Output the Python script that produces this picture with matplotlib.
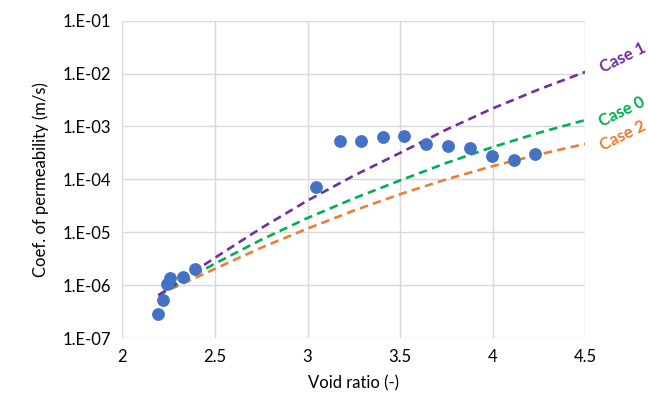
import numpy as np
import matplotlib
matplotlib.use('Agg')
import matplotlib.pyplot as plt
from matplotlib.ticker import FuncFormatter, LogLocator, NullLocator

plt.rcParams['font.family'] = ['Lato', 'DejaVu Sans']

# measured data (void ratio, permeability m/s)
e_meas = [2.191, 2.221, 2.243, 2.257, 2.326, 2.393, 3.048, 3.173, 3.287, 3.406,
          3.523, 3.640, 3.759, 3.878, 3.995, 4.114, 4.231]
k_meas = [2.9e-7, 5.3e-7, 1.04e-6, 1.37e-6, 1.43e-6, 2.0e-6, 7.2e-5, 5.3e-4, 5.3e-4,
          6.2e-4, 6.5e-4, 4.7e-4, 4.3e-4, 4.0e-4, 2.77e-4, 2.3e-4, 3.08e-4]

e_curve = [2.194, 2.25, 2.5, 2.75, 3.0, 3.25, 3.5, 3.75, 4.0, 4.25, 4.5]
logk_case1 = [-6.19, -6.06, -5.48, -4.92, -4.40, -3.93, -3.50, -3.06, -2.66, -2.30, -1.97]
logk_case0 = [-6.19, -6.08, -5.59, -5.14, -4.73, -4.36, -4.02, -3.69, -3.39, -3.12, -2.88]
logk_case2 = [-6.19, -6.09, -5.69, -5.29, -4.93, -4.59, -4.28, -4.00, -3.75, -3.53, -3.33]

fig = plt.figure(figsize=(6.48, 4.04), dpi=100)
ax = fig.add_axes([0.189, 0.163, 0.714, 0.786])

dash = (3.2, 2.0)
ax.plot(e_curve, 10 ** np.array(logk_case2), color='#ED7D31', lw=1.9, dashes=dash, zorder=2)
ax.plot(e_curve, 10 ** np.array(logk_case0), color='#00B050', lw=1.9, dashes=dash, zorder=2)
ax.plot(e_curve, 10 ** np.array(logk_case1), color='#7030A0', lw=1.9, dashes=dash, zorder=2)
ax.scatter(e_meas, k_meas, s=85, color='#4472C4', zorder=3, linewidths=0)

ax.set_yscale('log')
ax.set_xlim(2, 4.5)
ax.set_ylim(1e-7, 1e-1)
ax.set_xticks([2, 2.5, 3, 3.5, 4, 4.5])
ax.set_xticklabels(['2', '2.5', '3', '3.5', '4', '4.5'])
ax.yaxis.set_major_locator(LogLocator(base=10, numticks=10))
ax.yaxis.set_minor_locator(NullLocator())
ax.yaxis.set_major_formatter(FuncFormatter(lambda v, p: '1.E-%02d' % round(-np.log10(v))))
ax.tick_params(length=0, labelsize=12, colors='#000000', pad=8)
ax.grid(True, color='#D9D9D9', lw=1.0)
ax.set_axisbelow(True)
for s in ax.spines.values():
	s.set_visible(False)

ax.set_xlabel('Void ratio (-)', fontsize=12, labelpad=7)
ax.set_ylabel('Coef. of permeability (m/s)', fontsize=12, labelpad=10)

lab = dict(fontsize=12, fontweight='bold', rotation=26, ha='center', va='center',
           transform=ax.transData, clip_on=False)
ax.text(4.705, 10 ** -1.70, 'Case 1', color='#7030A0', **lab)
ax.text(4.70, 10 ** -2.72, 'Case 0', color='#00B050', **lab)
ax.text(4.705, 10 ** -3.17, 'Case 2', color='#ED7D31', **lab)

fig.savefig('out.png', dpi=100)
